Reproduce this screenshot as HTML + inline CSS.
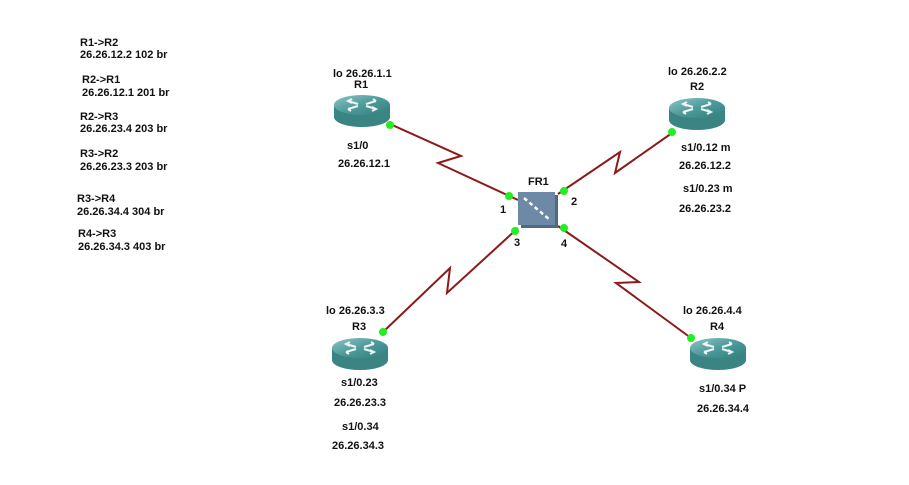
<!DOCTYPE html>
<html><head><meta charset="utf-8"><style>
html,body{margin:0;padding:0;background:#fff;}
svg text{font-family:"Liberation Sans",sans-serif;font-size:11px;font-weight:bold;fill:#111;}
</style></head><body>
<svg width="909" height="480" viewBox="0 0 909 480" xmlns="http://www.w3.org/2000/svg">
<defs>
<linearGradient id="tg" x1="0" y1="0" x2="1" y2="1"><stop offset="0" stop-color="#8fc6c6"/><stop offset="0.5" stop-color="#4f9a9a"/><stop offset="1" stop-color="#2f7e7e"/></linearGradient>
<g id="rt">
<path d="M0,10 L0,22 A28,10 0 0 0 56,22 L56,10 Z" fill="#3a8584"/>
<ellipse cx="28" cy="10" rx="28" ry="10" fill="url(#tg)"/>
<g stroke="#fff" stroke-width="2" fill="none" opacity="0.9">
<path d="M14,6 L24,9 M18,4 L14,6 L18,8"/>
<path d="M42,14 L32,11 M38,16 L42,14 L38,12"/>
<path d="M14,14 L24,11 M17,16 L14,14"/>
<path d="M42,6 L32,9 M39,4 L42,6"/>
</g>
</g>
</defs>
<g stroke="#8b1a1a" stroke-width="2" fill="none">
<polyline points="390,124 461,156 438,163 518,200"/>
<polyline points="558,194 620,152 615,173 672,133"/>
<polyline points="518,228 447,293 450,268 383,332"/>
<polyline points="558,226 639,282 616,283 691,338"/>
</g>
<use href="#rt" x="334" y="95"/>
<use href="#rt" x="669" y="98"/>
<use href="#rt" x="332" y="338"/>
<use href="#rt" x="690" y="338"/>
<rect x="521" y="195" width="37" height="33" fill="#4e6a86"/>
<rect x="518" y="192" width="37" height="33" fill="#6d89a6"/>
<line x1="524" y1="198" x2="550" y2="220" stroke="#fff" stroke-width="2.5" stroke-dasharray="4,3"/>
<g fill="#22ee22">
<circle cx="390" cy="125" r="4"/><circle cx="509" cy="196" r="4"/><circle cx="564" cy="191" r="4"/>
<circle cx="515" cy="231" r="4"/><circle cx="564" cy="228" r="4"/><circle cx="672" cy="132" r="4"/>
<circle cx="383" cy="332" r="4"/><circle cx="691" cy="338" r="4"/>
</g>
<text x="80" y="46">R1-&gt;R2</text><text x="80" y="58">26.26.12.2 102 br</text>
<text x="82" y="83">R2-&gt;R1</text><text x="82" y="96">26.26.12.1 201 br</text>
<text x="80" y="120">R2-&gt;R3</text><text x="80" y="132">26.26.23.4 203 br</text>
<text x="80" y="157">R3-&gt;R2</text><text x="80" y="170">26.26.23.3 203 br</text>
<text x="77" y="202">R3-&gt;R4</text><text x="77" y="215">26.26.34.4 304 br</text>
<text x="78" y="237">R4-&gt;R3</text><text x="78" y="250">26.26.34.3 403 br</text>
<text x="333" y="77">lo 26.26.1.1</text><text x="354" y="88">R1</text>
<text x="347" y="149">s1/0</text><text x="338" y="167">26.26.12.1</text>
<text x="528" y="185">FR1</text><text x="500" y="213">1</text><text x="571" y="205">2</text>
<text x="514" y="246">3</text><text x="561" y="247">4</text>
<text x="668" y="75">lo 26.26.2.2</text><text x="690" y="90">R2</text>
<text x="681" y="151">s1/0.12 m</text><text x="679" y="169">26.26.12.2</text>
<text x="683" y="192">s1/0.23 m</text><text x="679" y="212">26.26.23.2</text>
<text x="326" y="314">lo 26.26.3.3</text><text x="352" y="330">R3</text>
<text x="341" y="386">s1/0.23</text><text x="334" y="406">26.26.23.3</text>
<text x="342" y="430">s1/0.34</text><text x="332" y="449">26.26.34.3</text>
<text x="683" y="314">lo 26.26.4.4</text><text x="710" y="330">R4</text>
<text x="699" y="392">s1/0.34 P</text><text x="697" y="412">26.26.34.4</text>
</svg>
</body></html>
